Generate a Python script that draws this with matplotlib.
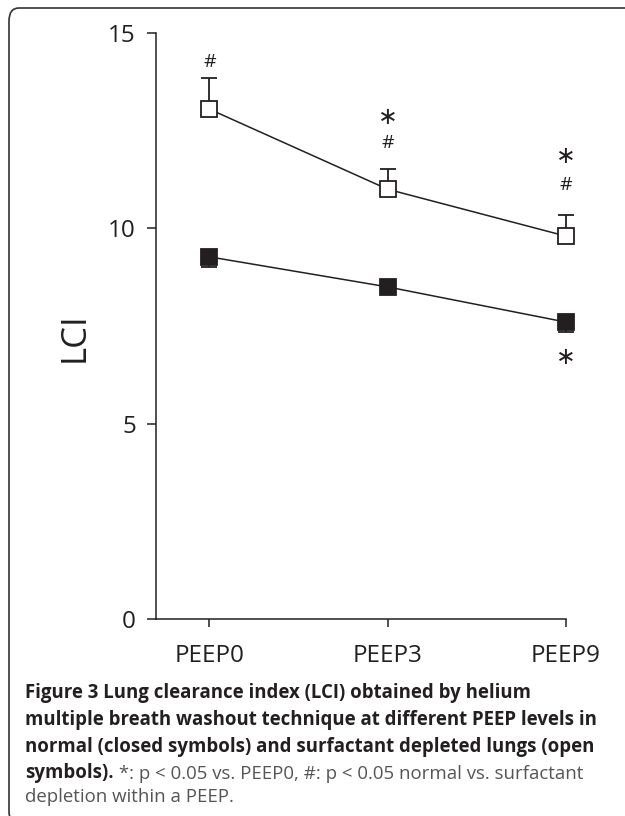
import matplotlib.pyplot as plt
from matplotlib.patches import FancyBboxPatch

# data
categories = ["PEEP0", "PEEP3", "PEEP9"]
surfactant_mean = [13.05, 11.0, 9.8]     # open symbols
surfactant_err = [0.8, 0.52, 0.54]
normal_mean = [9.27, 8.5, 7.6]           # closed symbols
normal_err = [0.27, 0.1, 0.25]

# significance markers: (category index, y, symbol)
sig_x = [0, 1, 1, 2, 2, 2]
sig_y = [14.26, 12.18, 12.85, 11.1, 11.85, 6.7]
sig_sym = ["#", "#", "*", "#", "*", "*"]

ink = "#231f20"
plt.rcParams["font.family"] = ["Open Sans", "DejaVu Sans"]

fig = plt.figure(figsize=(6.25, 8.16), dpi=100)
ax = fig.add_axes([156 / 625, 1 - 619 / 816, (566 - 156) / 625, (619 - 33) / 816])

x = list(range(len(categories)))

# surfactant depleted (open squares), error upward
ax.errorbar(x, surfactant_mean, yerr=[[0] * 3, surfactant_err], fmt="none",
            ecolor=ink, elinewidth=1.3, capsize=6, capthick=1.3, zorder=2, clip_on=False)
ax.plot(x, surfactant_mean, "-s", color=ink, lw=1.1, ms=11.5, mfc="white",
        mec=ink, mew=1.3, zorder=3, clip_on=False)

# normal (closed squares), error downward
ax.errorbar(x, normal_mean, yerr=[normal_err, [0] * 3], fmt="none",
            ecolor=ink, elinewidth=1.3, capsize=6, capthick=1.3, zorder=2, clip_on=False)
ax.plot(x, normal_mean, "-s", color=ink, lw=1.1, ms=11.5, mfc=ink,
        mec=ink, mew=1.3, zorder=3, clip_on=False)

for xi, yi, s in zip(sig_x, sig_y, sig_sym):
    if s == "*":
        ax.text(xi, yi, "\u2217", ha="center", va="center", fontsize=17,
                color=ink, family=["DejaVu Sans"])
    else:
        ax.text(xi, yi, s, ha="center", va="center", fontsize=14, color=ink)

ax.set_xlim(-0.3, 2.0)
ax.set_ylim(0, 15)
ax.set_yticks([0, 5, 10, 15])
ax.set_xticks(x)
ax.set_xticklabels(categories)
for sp in ["top", "right"]:
    ax.spines[sp].set_visible(False)
for sp in ["left", "bottom"]:
    ax.spines[sp].set_linewidth(1.1)
    ax.spines[sp].set_color(ink)
ax.tick_params(axis="y", direction="out", length=6.5, width=1.1, pad=8,
               labelsize=17.5, colors=ink)
ax.tick_params(axis="x", direction="out", length=6, width=1.1, pad=12,
               labelsize=17.5, colors=ink)
ax.set_ylabel("LCI", fontsize=25, color=ink)
ax.yaxis.set_label_coords(-0.157, 0.481)

# caption
cap_x = 25 / 625
cap_size = 13.4
bold_lines = [
    "Figure 3 Lung clearance index (LCI) obtained by helium",
    "multiple breath washout technique at different PEEP levels in",
    "normal (closed symbols) and surfactant depleted lungs (open",
]
line_y = [693, 720, 747]
for txt, ly in zip(bold_lines, line_y):
    fig.text(cap_x, 1 - ly / 816, txt, fontsize=cap_size, fontweight="bold",
             color=ink, va="center", ha="left")
t = fig.text(cap_x, 1 - 773 / 816, "symbols).", fontsize=cap_size,
             fontweight="bold", color=ink, va="center", ha="left")
ax.annotate(" *: p < 0.05 vs. PEEP0, #: p < 0.05 normal vs. surfactant",
            xy=(1, 0), xycoords=t, va="bottom", ha="left",
            fontsize=cap_size, color="#555555")
fig.text(cap_x, 1 - 797 / 816, "depletion within a PEEP.", fontsize=cap_size,
         color="#555555", va="center", ha="left")

# rounded frame around the figure
frame = FancyBboxPatch((9 / 625, -0.01), 1.1, 1 - 8 / 816 + 0.01,
                       boxstyle="round,pad=0,rounding_size=0.016",
                       transform=fig.transFigure, fill=False,
                       edgecolor="#333333", lw=1.2)
fig.patches.append(frame)

fig.savefig("out.png", dpi=100)
